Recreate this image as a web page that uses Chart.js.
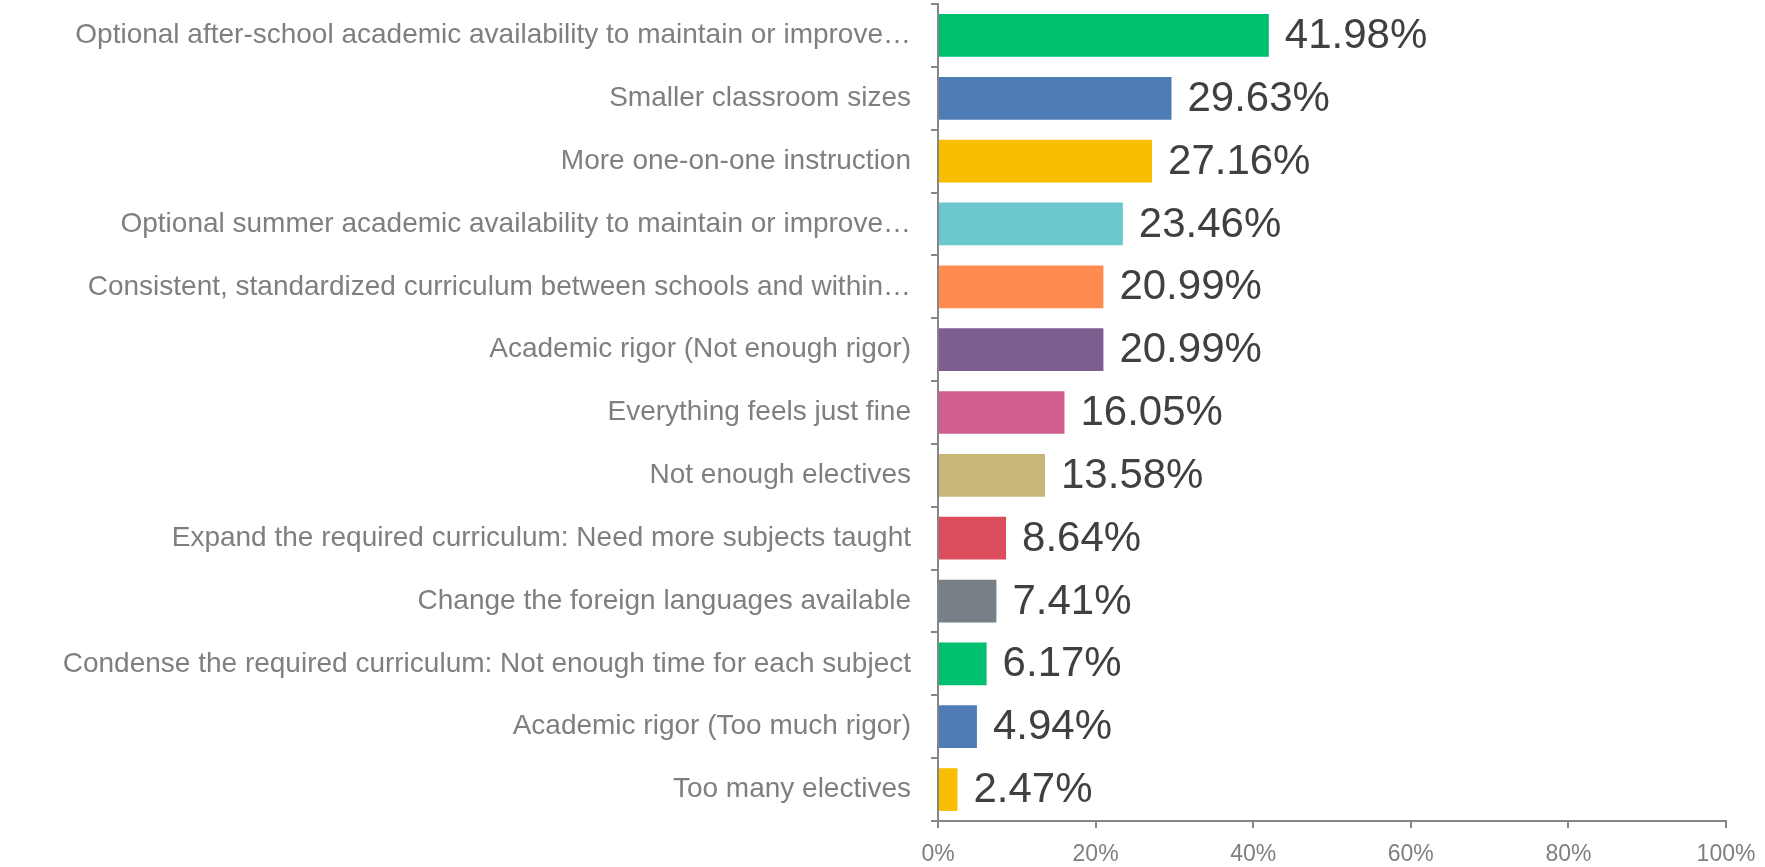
<!DOCTYPE html>
<html>
<head>
<meta charset="utf-8">
<script src="https://cdn.jsdelivr.net/npm/chart.js@4/dist/chart.umd.min.js"></script>
<style>
  html, body { margin: 0; padding: 0; background: #ffffff; }
  #wrap { width: 1765px; height: 867px; position: relative; }
</style>
</head>
<body>
<div id="wrap"><canvas id="answersChart"></canvas></div>
<script>
// ============================================
// data
// ============================================
const categories = [
  "Optional after-school academic availability to maintain or improve…",
  "Smaller classroom sizes",
  "More one-on-one instruction",
  "Optional summer academic availability to maintain or improve…",
  "Consistent, standardized curriculum between schools and within…",
  "Academic rigor (Not enough rigor)",
  "Everything feels just fine",
  "Not enough electives",
  "Expand the required curriculum: Need more subjects taught",
  "Change the foreign languages available",
  "Condense the required curriculum: Not enough time for each subject",
  "Academic rigor (Too much rigor)",
  "Too many electives",
];
const percentages = [41.98, 29.63, 27.16, 23.46, 20.99, 20.99, 16.05, 13.58, 8.64, 7.41, 6.17, 4.94, 2.47];
const barColors = [
  "#00BF6F", "#507CB6", "#F9BE00", "#6BC8CD", "#FF8B4F", "#7D5E90", "#D25F90",
  "#C7B879", "#DB4D5C", "#768086", "#00BF6F", "#507CB6", "#F9BE00",
];
const xTicks = [0, 20, 40, 60, 80, 100];

const FONT = "'Liberation Sans', Arial, sans-serif";
const AXIS_GRAY = "#868686";

// value labels at the end of each bar
const valueLabels = {
  id: "valueLabels",
  afterDatasetsDraw(chart) {
    const ctx = chart.ctx;
    const meta = chart.getDatasetMeta(0);
    ctx.save();
    ctx.font = "42px " + FONT;
    ctx.fillStyle = "#404040";
    ctx.textAlign = "left";
    ctx.textBaseline = "middle";
    meta.data.forEach((bar, i) => {
      ctx.fillText(percentages[i].toFixed(2) + "%", bar.x + 16, bar.y + 1);
    });
    ctx.restore();
  },
};

const ctx = document.getElementById("answersChart").getContext("2d");
new Chart(ctx, {
  type: "bar",
  data: {
    labels: categories,
    datasets: [
      {
        data: percentages,
        backgroundColor: barColors,
        borderWidth: 0,
        barPercentage: 0.68,
        categoryPercentage: 1.0,
      },
    ],
  },
  options: {
    indexAxis: "y",
    responsive: true,
    maintainAspectRatio: false,
    animation: false,
    layout: { padding: { top: 4, right: 39, left: 0, bottom: 0 } },
    plugins: {
      legend: { display: false },
      tooltip: { enabled: false },
    },
    scales: {
      x: {
        min: 0,
        max: 100,
        afterBuildTicks: (scale) => {
          scale.ticks = xTicks.map((v) => ({ value: v }));
        },
        afterFit: (scale) => {
          scale.height = 46;
          scale.paddingLeft = 0;
          scale.paddingRight = 0;
        },
        ticks: {
          callback: (v) => v + "%",
          color: "#7f7f7f",
          font: { family: FONT, size: 23 },
          padding: 13,
          maxRotation: 0,
        },
        grid: {
          drawOnChartArea: false,
          drawTicks: true,
          tickLength: 7,
          color: AXIS_GRAY,
          lineWidth: 2,
        },
        border: { color: AXIS_GRAY, width: 2 },
      },
      y: {
        afterFit: (scale) => {
          scale.width = 938;
          scale.paddingTop = 0;
          scale.paddingBottom = 0;
        },
        ticks: {
          color: "#7f7f7f",
          font: { family: FONT, size: 28 },
          padding: 20,
          autoSkip: false,
        },
        grid: {
          offset: true,
          drawOnChartArea: false,
          drawTicks: true,
          tickLength: 7,
          color: AXIS_GRAY,
          lineWidth: 2,
        },
        border: { color: AXIS_GRAY, width: 2 },
      },
    },
  },
  plugins: [valueLabels],
});
</script>
</body>
</html>
